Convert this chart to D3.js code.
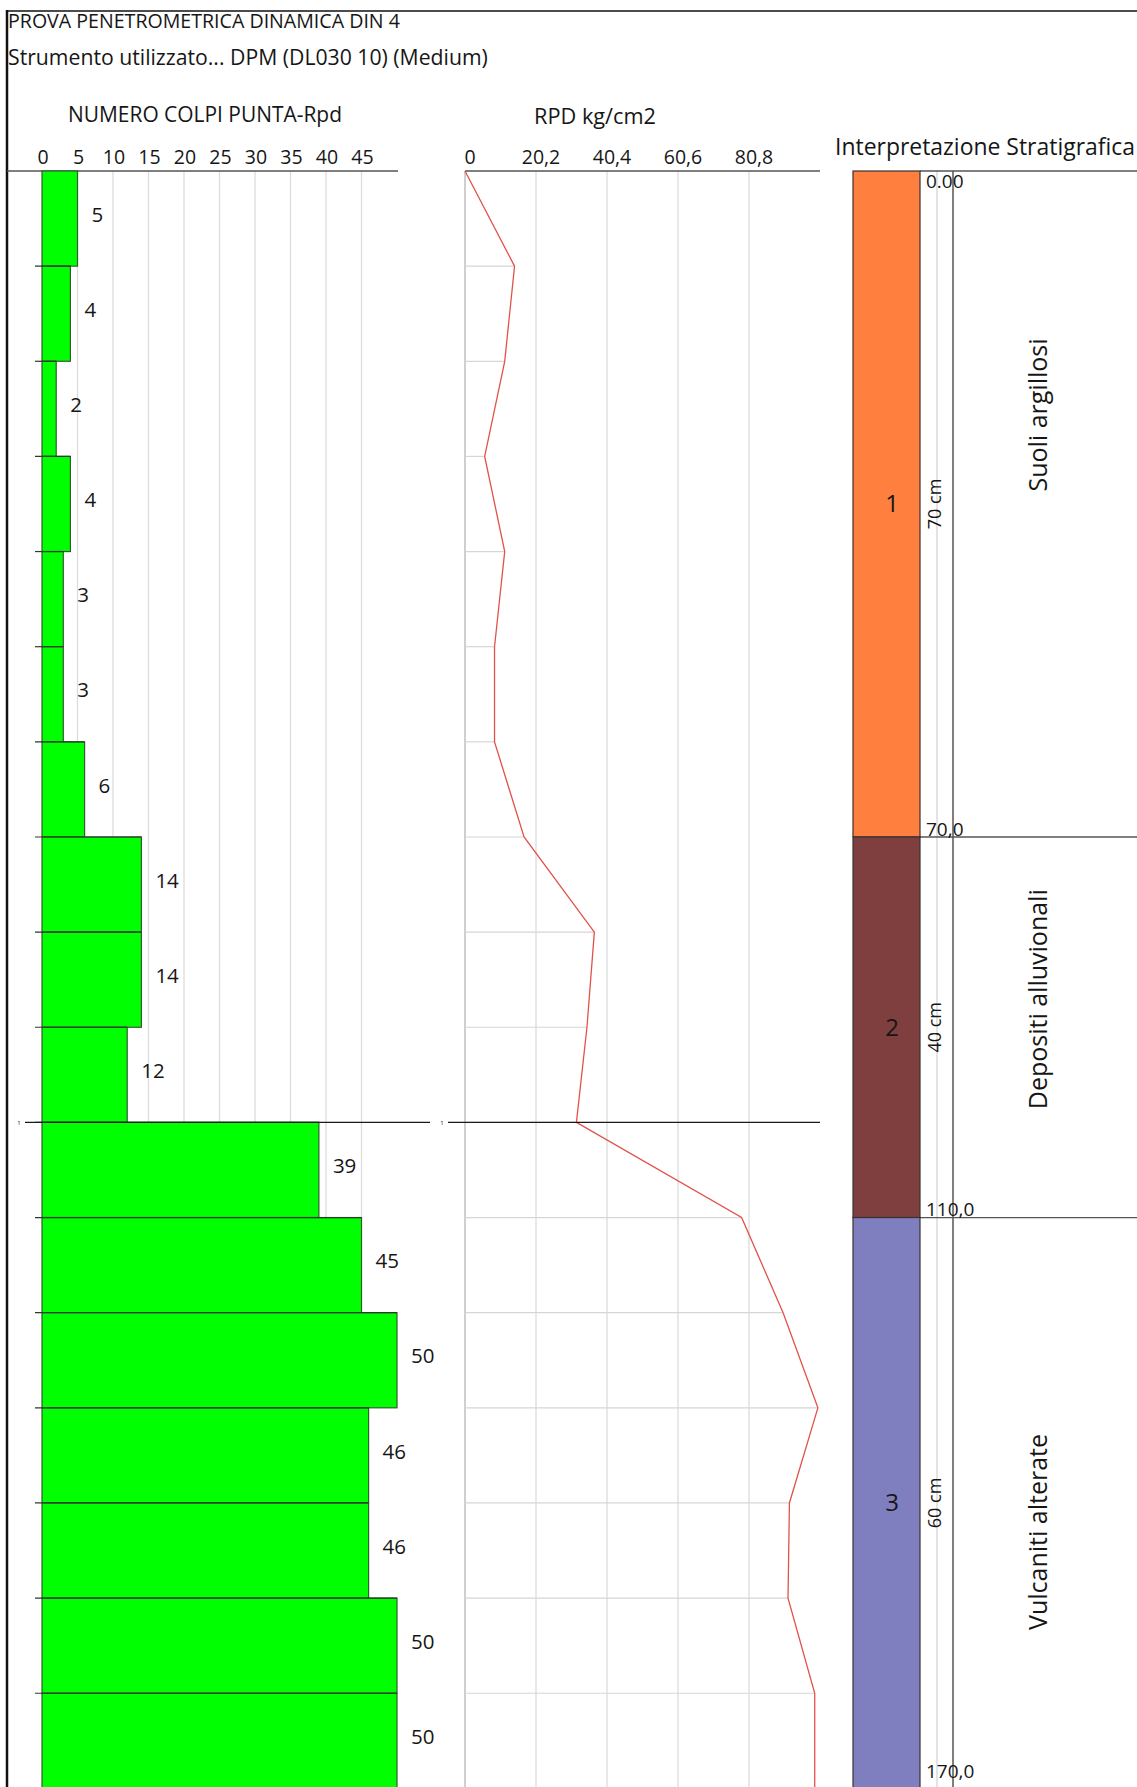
<!DOCTYPE html>
<html>
<head>
<meta charset="utf-8">
<script src="https://cdn.jsdelivr.net/npm/d3@7"></script>
<style>
  html, body { margin: 0; background: #fff; }
  svg { display: block; }
  text { font-family: "Open Sans", "Noto Sans", sans-serif; fill: #161616; }
</style>
</head>
<body>
<svg id="chart" width="1137" height="1787"></svg>
<script>
// ---- data -------------------------------------------------------------
// bottom depth (cm) of each 10 cm penetration step
const depthBottom = [10, 20, 30, 40, 50, 60, 70, 80, 90, 100, 110, 120, 130, 140, 150, 160, 170];
// number of blows for each step
const blows = [5, 4, 2, 4, 3, 3, 6, 14, 14, 12, 39, 45, 50, 46, 46, 50, 50];
// dynamic point resistance Rpd (kg/cm2) for each step
const rpd = [14.1, 11.3, 5.6, 11.3, 8.4, 8.4, 16.8, 36.8, 34.7, 31.7, 78.7, 90.5, 100.4, 92.3, 91.9, 99.5, 99.5];

const blowTicks = [0, 5, 10, 15, 20, 25, 30, 35, 40, 45];
const rpdTicks = [0, 20.2, 40.4, 60.6, 80.8];
const rpdTickLabels = ["0", "20,2", "40,4", "60,6", "80,8"];

// stratigraphic interpretation
const layerTop = [0, 70, 110];
const layerBottom = [70, 110, 170];
const layerNumber = ["1", "2", "3"];
const layerThickness = ["70 cm", "40 cm", "60 cm"];
const layerName = ["Suoli argillosi", "Depositi alluvionali", "Vulcaniti alterate"];
const layerColor = ["#ff7f3f", "#7f3f3f", "#7f7fbf"];
const boundaryDepth = [0, 70, 110, 170];
const boundaryLabel = ["0.00", "70,0", "110,0", "170,0"];

// rod metre marks
const metreDepth = [100];
const metreLabel = ["1"];

// ---- layout -----------------------------------------------------------
const svg = d3.select("#chart");
const W = 1137, H = 1787;
const top0 = 171;

const y = d3.scaleLinear().domain([0, 170]).range([top0, top0 + 170 * 9.514]);
const xB = d3.scaleLinear().domain([0, 50]).range([42, 397]);
const xR = d3.scaleLinear().domain([0, 101]).range([465, 820]);
const colL = 853, colR = 920;

// scale a text's font-size so that it spans the given width
function fit(sel, width) {
  const node = sel.node();
  const fs = parseFloat(sel.attr("font-size"));
  const w = node.getComputedTextLength();
  sel.attr("font-size", (fs * width / w).toFixed(2));
  return sel;
}

// frame
svg.append("line").attr("x1", 7).attr("x2", 7).attr("y1", 10).attr("y2", H)
  .attr("stroke", "#111").attr("stroke-width", 2.5);
svg.append("line").attr("x1", 6).attr("x2", W).attr("y1", 11).attr("y2", 11)
  .attr("stroke", "#111").attr("stroke-width", 1.5);

// headings
fit(svg.append("text").attr("x", 8).attr("y", 21).attr("dy", "0.35em")
  .attr("font-size", 20).text("PROVA PENETROMETRICA DINAMICA DIN 4"), 392);
fit(svg.append("text").attr("x", 8).attr("y", 58).attr("dy", "0.35em")
  .attr("font-size", 20).text("Strumento utilizzato... DPM (DL030 10) (Medium)"), 480);

// ---- blow count panel ---------------------------------------------------
const gB = svg.append("g");
fit(gB.append("text").attr("x", 205).attr("y", 115).attr("dy", "0.35em")
  .attr("text-anchor", "middle").attr("font-size", 20).text("NUMERO COLPI PUNTA-Rpd"), 274);

gB.selectAll("line.grid").data(blowTicks.filter(d => d > 0)).join("line")
  .attr("class", "grid")
  .attr("x1", d => xB(d)).attr("x2", d => xB(d))
  .attr("y1", top0).attr("y2", H)
  .attr("stroke", "#dcdcdc").attr("stroke-width", 1.3);

gB.selectAll("text.tick").data(blowTicks).join("text")
  .attr("class", "tick")
  .attr("x", d => xB(d) + 1).attr("y", 157).attr("dy", "0.35em")
  .attr("text-anchor", "middle").attr("font-size", 19.5)
  .text(d => d);

gB.append("line").attr("x1", 7).attr("x2", xB(50) + 1).attr("y1", top0).attr("y2", top0)
  .attr("stroke", "#555").attr("stroke-width", 1.3);

const steps = depthBottom.map((d, i) => ({ top: i === 0 ? 0 : depthBottom[i - 1], bottom: d, n: blows[i], r: rpd[i] }));

gB.selectAll("rect.bar").data(steps).join("rect")
  .attr("class", "bar")
  .attr("x", xB(0)).attr("y", d => y(d.top))
  .attr("width", d => xB(d.n) - xB(0)).attr("height", d => y(d.bottom) - y(d.top))
  .attr("fill", "#00ff00").attr("stroke", "#2f5e2f").attr("stroke-width", 1.2);

gB.selectAll("line.step").data(steps.slice(1)).join("line")
  .attr("class", "step")
  .attr("x1", 35).attr("x2", d => xB(d.n)).attr("y1", d => y(d.top)).attr("y2", d => y(d.top))
  .attr("stroke", "#2b3b2b").attr("stroke-width", 1.2);

gB.selectAll("text.val").data(steps).join("text")
  .attr("class", "val")
  .attr("x", d => xB(d.n) + 14).attr("y", d => (y(d.top) + y(d.bottom)) / 2 - 4)
  .attr("dy", "0.35em").attr("font-size", 20.5)
  .text(d => d.n);

// ---- Rpd panel ----------------------------------------------------------
const gR = svg.append("g");
fit(gR.append("text").attr("x", 595).attr("y", 116).attr("dy", "0.35em")
  .attr("text-anchor", "middle").attr("font-size", 20).text("RPD kg/cm2"), 122);

gR.selectAll("line.grid").data(rpdTicks).join("line")
  .attr("class", "grid")
  .attr("x1", d => xR(d)).attr("x2", d => xR(d))
  .attr("y1", top0).attr("y2", H)
  .attr("stroke", (d, i) => i === 0 ? "#b5b5b5" : "#dcdcdc").attr("stroke-width", 1.3);

gR.selectAll("text.tick").data(rpdTicks).join("text")
  .attr("class", "tick")
  .attr("x", d => xR(d) + 5).attr("y", 157).attr("dy", "0.35em")
  .attr("text-anchor", "middle").attr("font-size", 19.5)
  .text((d, i) => rpdTickLabels[i]);

gR.append("line").attr("x1", xR(0)).attr("x2", xR(101)).attr("y1", top0).attr("y2", top0)
  .attr("stroke", "#555").attr("stroke-width", 1.3);

gR.selectAll("line.step").data(steps).join("line")
  .attr("class", "step")
  .attr("x1", xR(0)).attr("x2", d => xR(d.r)).attr("y1", d => y(d.bottom)).attr("y2", d => y(d.bottom))
  .attr("stroke", "#d6d6d6").attr("stroke-width", 1.2);

const profile = [{ depth: 0, r: 0 }].concat(steps.map(d => ({ depth: d.bottom, r: d.r })));
gR.append("path").datum(profile)
  .attr("fill", "none").attr("stroke", "#e0524a").attr("stroke-width", 1.3)
  .attr("d", d3.line().x(d => xR(d.r)).y(d => y(d.depth)));

// rod metre marks across both panels
metreDepth.forEach((m, i) => {
  [[25, 430, 19], [448, 820, 442]].forEach(([a, b, t]) => {
    svg.append("line").attr("x1", a).attr("x2", b).attr("y1", y(m)).attr("y2", y(m))
      .attr("stroke", "#1a1a1a").attr("stroke-width", 1.4);
    svg.append("text").attr("x", t).attr("y", y(m)).attr("dy", "0.35em")
      .attr("text-anchor", "middle").attr("font-size", 6).text(metreLabel[i]);
  });
});

// ---- stratigraphy -------------------------------------------------------
const gS = svg.append("g");
fit(gS.append("text").attr("x", 835).attr("y", 147).attr("dy", "0.35em")
  .attr("font-size", 20).text("Interpretazione Stratigrafica"), 300);

gS.append("line").attr("x1", 937).attr("x2", 937).attr("y1", top0).attr("y2", H)
  .attr("stroke", "#d4d4d4").attr("stroke-width", 1.3);
gS.append("line").attr("x1", 953).attr("x2", 953).attr("y1", top0).attr("y2", H)
  .attr("stroke", "#555").attr("stroke-width", 1.5);

gS.selectAll("line.bound").data(boundaryDepth).join("line")
  .attr("class", "bound")
  .attr("x1", colR).attr("x2", W).attr("y1", d => y(d)).attr("y2", d => y(d))
  .attr("stroke", "#555").attr("stroke-width", 1.3);

const layers = layerTop.map((t, i) => ({ top: t, bottom: layerBottom[i], i }));
gS.selectAll("rect.layer").data(layers).join("rect")
  .attr("class", "layer")
  .attr("x", colL).attr("y", d => y(d.top))
  .attr("width", colR - colL).attr("height", d => y(d.bottom) - y(d.top))
  .attr("fill", d => layerColor[d.i]).attr("stroke", "#3a3030").attr("stroke-width", 1.2);

gS.selectAll("text.num").data(layers).join("text")
  .attr("class", "num")
  .attr("x", 892).attr("y", d => y((d.top + d.bottom) / 2)).attr("dy", "0.35em")
  .attr("text-anchor", "middle").attr("font-size", 24)
  .text(d => layerNumber[d.i]);

gS.selectAll("text.thick").data(layers).join("text")
  .attr("class", "thick")
  .attr("transform", d => `translate(935,${y((d.top + d.bottom) / 2)}) rotate(-90)`)
  .attr("dy", "0.35em").attr("text-anchor", "middle").attr("font-size", 18)
  .text(d => layerThickness[d.i]);

// layer names sit in the wide column; vertical offsets from the layer centre
const nameShift = [-89, -28, 29];
gS.selectAll("text.name").data(layers).join("text")
  .attr("class", "name")
  .attr("transform", d => `translate(1038,${y((d.top + d.bottom) / 2) + nameShift[d.i]}) rotate(-90)`)
  .attr("dy", "0.35em").attr("text-anchor", "middle").attr("font-size", 25)
  .text(d => layerName[d.i]);

gS.selectAll("text.depth").data(boundaryDepth).join("text")
  .attr("class", "depth")
  .attr("x", 926).attr("y", (d, i) => i === 0 ? y(d) + 10 : Math.min(y(d) - 8, H - 16))
  .attr("dy", "0.35em").attr("font-size", 19)
  .text((d, i) => boundaryLabel[i]);
</script>
</body>
</html>
